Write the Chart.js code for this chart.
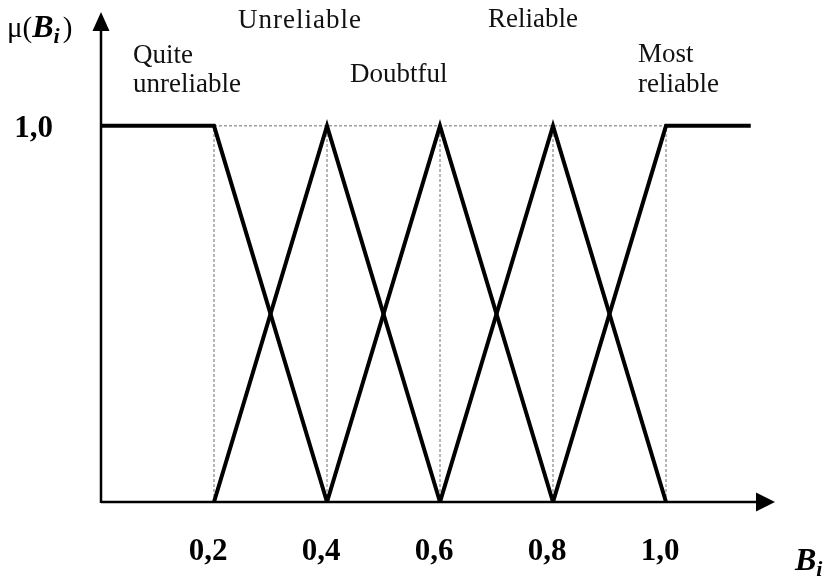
<!DOCTYPE html>
<html>
<head>
<meta charset="utf-8">
<script src="https://cdn.jsdelivr.net/npm/chart.js@4"></script>
<style>
  html, body { margin: 0; padding: 0; background: #fff; }
  #wrap { width: 830px; height: 576px; }
</style>
</head>
<body>
<div id="wrap"><canvas id="chart" width="830" height="576"></canvas></div>
<script>
// membership functions (x = B_i, y = mu)
var quiteUnreliableX = [0, 0.2, 0.4];
var quiteUnreliableY = [1, 1, 0];
var unreliableX = [0.2, 0.4, 0.6];
var unreliableY = [0, 1, 0];
var doubtfulX = [0.4, 0.6, 0.8];
var doubtfulY = [0, 1, 0];
var reliableX = [0.6, 0.8, 1.0];
var reliableY = [0, 1, 0];
var mostReliableX = [0.8, 1.0, 1.15];
var mostReliableY = [0, 1, 1];

var tickValues = [0.2, 0.4, 0.6, 0.8, 1.0];
var tickLabels = ['0,2', '0,4', '0,6', '0,8', '1,0'];
var yTickValue = 1.0;
var yTickLabel = '1,0';

function toPoints(xs, ys) {
    var pts = [];
    for (var i = 0; i < xs.length; i++) pts.push({x: xs[i], y: ys[i]});
    return pts;
}

function termSet(label, xs, ys) {
    return {
        label: label,
        data: toPoints(xs, ys),
        showLine: true,
        borderColor: '#000',
        borderWidth: 4,
        pointRadius: 0,
        tension: 0,
        clip: false,
        order: 1
    };
}

function guideSet(xs, ys) {
    return {
        label: 'guide',
        data: toPoints(xs, ys),
        showLine: true,
        borderColor: '#6e6e6e',
        borderWidth: 1,
        borderDash: [3, 2],
        pointRadius: 0,
        clip: false,
        order: 2
    };
}

var datasets = [];
// dotted guides
tickValues.forEach(function(v){
    datasets.push(guideSet([v, v], [0, yTickValue]));
});
datasets.push(guideSet([tickValues[0], tickValues[tickValues.length - 1]], [yTickValue, yTickValue]));

datasets.push(termSet('Quite unreliable', quiteUnreliableX, quiteUnreliableY));
datasets.push(termSet('Unreliable', unreliableX, unreliableY));
datasets.push(termSet('Doubtful', doubtfulX, doubtfulY));
datasets.push(termSet('Reliable', reliableX, reliableY));
datasets.push(termSet('Most reliable', mostReliableX, mostReliableY));

var axesPlugin = {
    id: 'axesPlugin',
    afterDatasetsDraw: function(chart) {
        var ctx = chart.ctx;
        var xs = chart.scales.x, ys = chart.scales.y;
        var x0 = xs.getPixelForValue(0), y0 = ys.getPixelForValue(0);
        var xEnd = chart.chartArea.right - 4, yEnd = chart.chartArea.top - 1;

        ctx.save();
        ctx.strokeStyle = '#000';
        ctx.fillStyle = '#000';
        ctx.lineWidth = 2.5;
        // x axis
        ctx.beginPath();
        ctx.moveTo(x0, y0);
        ctx.lineTo(xEnd - 15, y0);
        ctx.stroke();
        ctx.beginPath();
        ctx.moveTo(xEnd, y0);
        ctx.lineTo(xEnd - 19, y0 - 9.5);
        ctx.lineTo(xEnd - 19, y0 + 9.5);
        ctx.closePath();
        ctx.fill();
        // y axis
        ctx.beginPath();
        ctx.moveTo(x0, y0 + 1);
        ctx.lineTo(x0, yEnd + 15);
        ctx.stroke();
        ctx.beginPath();
        ctx.moveTo(x0, yEnd);
        ctx.lineTo(x0 - 8.5, yEnd + 19);
        ctx.lineTo(x0 + 8.5, yEnd + 19);
        ctx.closePath();
        ctx.fill();

        // tick labels
        ctx.font = 'bold 31px "Liberation Serif"';
        ctx.textAlign = 'center';
        ctx.textBaseline = 'alphabetic';
        tickValues.forEach(function(v, i){
            ctx.fillText(tickLabels[i], xs.getPixelForValue(v) - 6, y0 + 58);
        });
        ctx.textAlign = 'right';
        ctx.fillText(yTickLabel, 53, ys.getPixelForValue(yTickValue) + 11);

        // axis titles
        ctx.textAlign = 'left';
        ctx.font = '29px "Liberation Serif"';
        ctx.fillText('\u03bc(', 7, 37);
        var w = ctx.measureText('\u03bc(').width;
        ctx.font = 'bold italic 32px "Liberation Serif"';
        ctx.fillText('B', 7 + w, 37);
        w += ctx.measureText('B').width;
        ctx.font = 'bold italic 22px "Liberation Serif"';
        ctx.fillText('i', 7 + w, 43);
        w += ctx.measureText('i').width + 3;
        ctx.font = '29px "Liberation Serif"';
        ctx.fillText(')', 7 + w, 37);

        ctx.font = 'bold italic 32px "Liberation Serif"';
        ctx.fillText('B', 795, 570);
        var bw = ctx.measureText('B').width;
        ctx.font = 'bold italic 22px "Liberation Serif"';
        ctx.fillText('i', 795 + bw, 576);

        // term names
        ctx.font = '27px "Liberation Serif"';
        ctx.fillStyle = '#111';
        ctx.fillText('Quite', 133, 63);
        ctx.fillText('unreliable', 133, 92);
        ctx.letterSpacing = '1px';
        ctx.fillText('Unreliable', 238, 28);
        ctx.letterSpacing = '0px';
        ctx.fillText('Doubtful', 350, 82);
        ctx.fillText('Reliable', 488, 27);
        ctx.fillText('Most', 638, 62);
        ctx.fillText('reliable', 638, 92);
        ctx.restore();
    }
};

new Chart(document.getElementById('chart'), {
    type: 'scatter',
    data: { datasets: datasets },
    options: {
        responsive: false,
        animation: false,
        layout: { padding: { left: 101, right: 51, top: 13, bottom: 74 } },
        scales: {
            x: { type: 'linear', min: 0, max: 1.2, display: false },
            y: { type: 'linear', min: 0, max: 1.3, display: false }
        },
        plugins: {
            legend: { display: false },
            tooltip: { enabled: false }
        }
    },
    plugins: [axesPlugin]
});
</script>
</body>
</html>
